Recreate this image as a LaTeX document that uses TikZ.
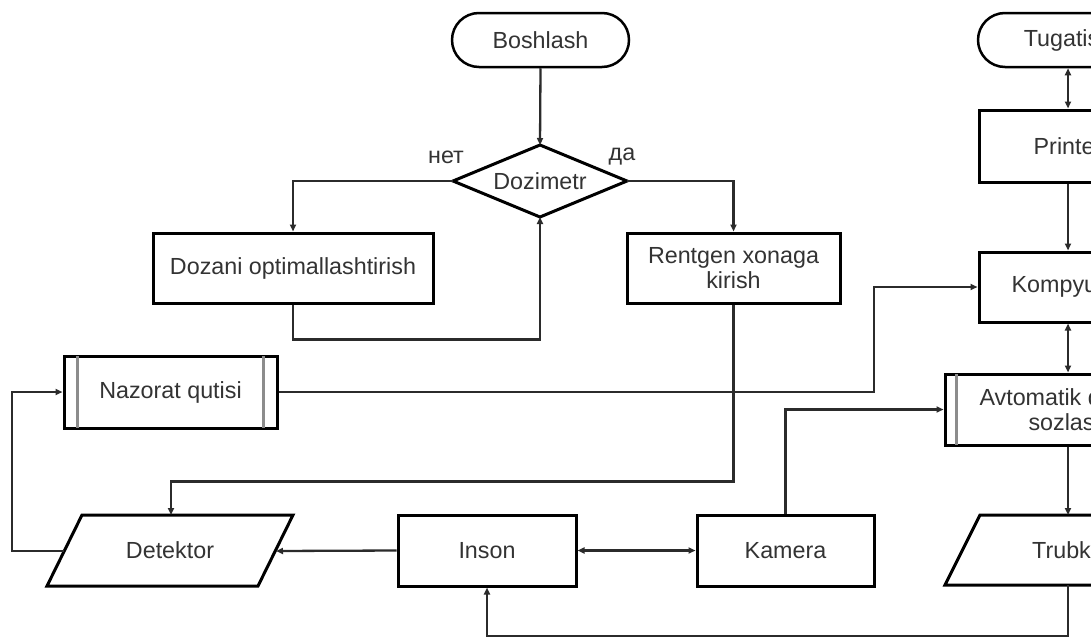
\documentclass[tikz,border=0pt]{standalone}
\usepackage{fontspec}
\setmainfont{Liberation Sans}
\usetikzlibrary{arrows.meta}
\definecolor{txtc}{HTML}{333333}
\definecolor{linec}{HTML}{2B2B2B}
\begin{document}
\begin{tikzpicture}[x=1pt,y=-1pt,
  font=\fontsize{23.3}{24.5}\selectfont,
  lbl/.style={text=txtc, inner sep=0pt},
  box/.style={draw=black, line width=3pt, minimum width=#1, minimum height=71pt, inner sep=0pt, align=center, text=txtc},
  term/.style={draw=black, line width=2.5pt, rounded corners=27pt, minimum width=#1, minimum height=54pt, inner sep=0pt, text=txtc},
  shp/.style={draw=black, line width=3pt, line join=miter},
  inner/.style={draw=black!45, line width=2.2pt},
  tip/.tip={Triangle[length=7pt,width=6pt]},
  conn/.style={draw=linec, line width=2.3pt, -tip},
  conn2/.style={draw=linec, line width=2.3pt, tip-tip},
]
\fill[white] (0,0) rectangle (1091,637);
\clip (0,0) rectangle (1091,637);

% start / decision
\node[term=177pt] (bosh) at (540.5,40) {Boshlash};
\coordinate (dzT) at (540,145);
\coordinate (dzR) at (627,181);
\coordinate (dzB) at (540,217);
\coordinate (dzL) at (453,181);
\draw[shp] (dzT) -- (dzR) -- (dzB) -- (dzL) -- cycle;
\node[lbl] (dz) at (540,181) {Dozimetr};
\node[lbl] (net) at (446,157) {нет};
\node[lbl] (da) at (622,157) {да};

\node[box=280pt, minimum height=70pt] (doz) at (293,268) {Dozani optimallashtirish};
\node[box=213pt, minimum height=70pt] (rent) at (733.5,268) {Rentgen xonaga\\kirish};

% Nazorat qutisi (predefined process)
\node[box=213pt, minimum height=72pt] (naz) at (170.5,392) {Nazorat qutisi};
\draw[inner] ([xshift=15pt,yshift=-1.5pt]naz.north west) -- ([xshift=15pt,yshift=1.5pt]naz.south west);
\draw[inner] ([xshift=-15pt,yshift=-1.5pt]naz.north east) -- ([xshift=-15pt,yshift=1.5pt]naz.south east);

% Detektor parallelogram
\coordinate (d1) at (82,515);
\coordinate (d2) at (293,515);
\coordinate (d3) at (258,586);
\coordinate (d4) at (47,586);
\draw[shp] (d1) -- (d2) -- (d3) -- (d4) -- cycle;
\node[lbl] (det) at (170,550.5) {Detektor};
\coordinate (detT) at (171,515);
\coordinate (detR) at (276,551);
\coordinate (detL) at (64,551);

\node[box=178pt] (ins) at (487,550.5) {Inson};
\node[box=177pt] (kam) at (785.5,550.5) {Kamera};

% right column
\node[term=180pt] (tug) at (1068,40) {Tugatish};
\node[box=178pt, minimum height=72pt] (prn) at (1068,146) {Printer};
\node[box=178pt, minimum height=70pt] (komp) at (1068,287) {Kompyuter};
\node[box=246pt] (avt) at (1068,409.5) {Avtomatik dozani\\sozlash};
\draw[inner] ([xshift=13pt,yshift=-1.5pt]avt.north west) -- ([xshift=13pt,yshift=1.5pt]avt.south west);
\coordinate (t1) at (980,515);
\coordinate (t2) at (1191,515);
\coordinate (t3) at (1156,585);
\coordinate (t4) at (945,585);
\draw[shp] (t1) -- (t2) -- (t3) -- (t4) -- cycle;
\node[lbl] (trb) at (1068,550) {Trubka};
\coordinate (trbT) at (1068,515);
\coordinate (trbB) at (1068,585);

% helper bends
\coordinate (lb) at (12,551);
\coordinate (nzb) at (874,392);
\coordinate (bb) at (1068,636);

% connectors
\draw[conn] (bosh.south) -- (dzT);
\draw[conn] (dzL) -| (doz.north);
\draw[conn] (doz.south) -- ++(0,35) -| (dzB);
\draw[conn] (dzR) -| (rent.north);
\draw[conn] (rent.south) -- ++(0,177) -| (detT);
\draw[conn] (ins.west) -- (detR);
\draw[conn2] (ins.east) -- (kam.west);
\draw[conn] (detL) -- (lb) |- (naz.west);
\draw[conn] (naz.east) -- (nzb) |- (komp.west);
\draw[conn] (kam.north) |- (avt.west);
\draw[conn2] (tug.south) -- (prn.north);
\draw[conn] (prn.south) -- (komp.north);
\draw[conn2] (komp.south) -- (avt.north);
\draw[conn] (avt.south) -- (trbT);
\draw[conn] (trbB) -- (bb) -| (ins.south);
\end{tikzpicture}
\end{document}
